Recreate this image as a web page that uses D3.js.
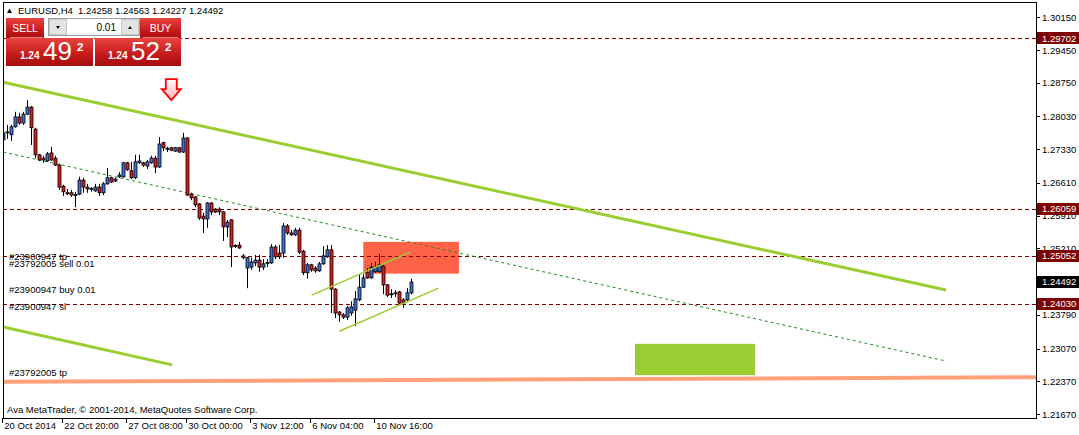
<!DOCTYPE html>
<html>
<head>
<meta charset="utf-8">
<script src="https://cdn.jsdelivr.net/npm/d3@7"></script>
<style>
body{margin:0;background:#fff}
svg{display:block;font-family:"Liberation Sans",Arial,sans-serif}
</style>
</head>
<body>
<div id="chart"></div>
<script>
// EURUSD H4 bars
const open = [1.2753,1.2768,1.2764,1.2781,1.2802,1.2789,1.2808,1.2823,1.2776,1.2721,
  1.2714,1.2708,1.2725,1.2714,1.2699,1.2654,1.2640,1.2640,1.2635,1.2637,
  1.2667,1.2652,1.2648,1.2644,1.2652,1.2640,1.2659,1.2672,1.2665,1.2674,
  1.2674,1.2704,1.2687,1.2672,1.2704,1.2704,1.2697,1.2704,1.2714,1.2695,
  1.2747,1.2734,1.2736,1.2729,1.2736,1.2727,1.2757,1.2637,1.2631,1.2616,
  1.2590,1.2584,1.2618,1.2605,1.2605,1.2599,1.2567,1.2582,1.2526,1.2528,
  1.2505,1.2479,1.2481,1.2490,1.2496,1.2481,1.2490,1.2490,1.2524,1.2511,
  1.2511,1.2569,1.2554,1.2550,1.2560,1.2515,1.2469,1.2486,1.2479,1.2473,
  1.2488,1.2503,1.2518,1.2434,1.2385,1.2379,1.2374,1.2383,1.2389,1.2411,
  1.2438,1.2469,1.2458,1.2471,1.2471,1.2483,1.2443,1.2423,1.2426,1.2428,
  1.2411,1.2411,1.24258];
const high = [1.2772,1.2785,1.2785,1.2813,1.2811,1.2813,1.2838,1.2825,1.2779,1.2723,
  1.2719,1.2727,1.2738,1.2719,1.2702,1.2657,1.2648,1.2646,1.2642,1.2674,
  1.2672,1.2659,1.2652,1.2659,1.2659,1.2663,1.2693,1.2674,1.2672,1.2684,
  1.2706,1.2706,1.2706,1.2721,1.2721,1.2706,1.2710,1.2719,1.2719,1.2759,
  1.2749,1.2738,1.2738,1.2738,1.2738,1.2768,1.2759,1.2640,1.2633,1.2618,
  1.2597,1.2620,1.2620,1.2607,1.2609,1.2601,1.2582,1.2584,1.2530,1.2535,
  1.2509,1.2503,1.2501,1.2507,1.2507,1.2498,1.2498,1.2530,1.2528,1.2528,
  1.2575,1.2573,1.2560,1.2565,1.2565,1.2518,1.2490,1.2488,1.2483,1.2492,
  1.2526,1.2528,1.2528,1.2436,1.2387,1.2383,1.2398,1.2408,1.2430,1.2464,
  1.2466,1.2479,1.2490,1.2492,1.2509,1.2486,1.2445,1.2434,1.2432,1.2430,
  1.2415,1.2436,1.24563];
const low = [1.2747,1.2755,1.2751,1.2779,1.2785,1.2785,1.2806,1.2742,1.2714,1.2708,
  1.2704,1.2706,1.2708,1.2697,1.2646,1.2633,1.2635,1.2631,1.2609,1.2635,
  1.2640,1.2640,1.2642,1.2642,1.2633,1.2635,1.2657,1.2661,1.2663,1.2672,
  1.2672,1.2687,1.2669,1.2669,1.2702,1.2695,1.2691,1.2702,1.2682,1.2693,
  1.2729,1.2727,1.2729,1.2727,1.2725,1.2725,1.2633,1.2624,1.2609,1.2582,
  1.2554,1.2565,1.2592,1.2597,1.2592,1.2537,1.2545,1.2481,1.2522,1.2520,
  1.2498,1.2436,1.2475,1.2483,1.2471,1.2475,1.2481,1.2488,1.2498,1.2498,
  1.2501,1.2550,1.2548,1.2548,1.2509,1.2464,1.2456,1.2471,1.2469,1.2471,
  1.2486,1.2501,1.2383,1.2372,1.2364,1.2370,1.2368,1.2377,1.2355,1.2408,
  1.2436,1.2456,1.2456,1.2469,1.2469,1.2423,1.2417,1.2415,1.2417,1.2402,
  1.2394,1.2406,1.24227];
const close = [1.2768,1.2770,1.2781,1.2802,1.2789,1.2808,1.2823,1.2779,1.2721,1.2710,
  1.2710,1.2723,1.2710,1.2699,1.2652,1.2642,1.2639,1.2635,1.2636,1.2667,
  1.2652,1.2648,1.2649,1.2652,1.2640,1.2659,1.2672,1.2663,1.2669,1.2678,
  1.2704,1.2689,1.2672,1.2706,1.2708,1.2699,1.2706,1.2714,1.2695,1.2744,
  1.2736,1.2735,1.2731,1.2736,1.2727,1.2757,1.2635,1.2629,1.2614,1.2586,
  1.2584,1.2618,1.2599,1.2599,1.2599,1.2567,1.2577,1.2524,1.2527,1.2522,
  1.2501,1.2501,1.2492,1.2496,1.2481,1.2488,1.2491,1.2524,1.2503,1.2503,
  1.2569,1.2554,1.2550,1.2560,1.2513,1.2469,1.2486,1.2475,1.2473,1.2488,
  1.2505,1.2518,1.2434,1.2383,1.2379,1.2374,1.2394,1.2396,1.2413,1.2438,
  1.2458,1.2458,1.2481,1.2481,1.2486,1.2443,1.2421,1.2424,1.2425,1.2404,
  1.2404,1.2426,1.24492];

const priceTicks = [1.30150,1.29450,1.28750,1.28030,1.27330,1.26610,1.25910,1.25210,1.24510,1.23790,1.23070,1.22370,1.21670];
const timeTickBars = [0,15,31,46,62,77,93];
const timeTickLabels = ["20 Oct 2014","22 Oct 20:00","27 Oct 08:00","30 Oct 00:00","3 Nov 12:00","6 Nov 04:00","10 Nov 16:00"];

const levels = [1.29702,1.26059,1.25052,1.24030]; // dashed order lines
const bidPrice = 1.24492;
const orderLabels = ["#23900947 tp","#23792005 sell 0.01","#23900947 buy 0.01","#23900947 sl","#23792005 tp"];
const orderLabelPrices = [1.2497,1.2482,1.2426,1.2389,1.2248];

// objects drawn on the chart: [bar, price]
const channelTop = [[0,1.2876],[235.7,1.2432]];
const channelBottom = [[0,1.2353],[42.2,1.2272]];
const dottedTrend = [[0,1.2727],[235.8,1.2280]];
const miniUpper = [[77.1,1.2421],[101.7,1.2513]];
const miniLower = [[84,1.2344],[108.8,1.2436]];
const tpTrend = [[0,1.2236],[258.2,1.22455]];
const sellZone = [[90,1.2535],[113.9,1.2467]];
const buyZone = [[157.9,1.2317],[187.9,1.2250]];
const arrowAt = [42,1.2838];

const width = 1079, height = 435;
const plot = {left: 3, right: 1036, top: 2, bottom: 418};

const x = d3.scaleLinear().domain([0,100]).range([3.3,403.3]);
const y = d3.scaleLinear().domain([1.2167,1.3015]).range([414,17.3]);

const svg = d3.select("#chart").append("svg")
  .attr("width", width)
  .attr("height", height);
svg.append("rect").attr("width", width).attr("height", height).attr("fill", "#fff");

const defs = svg.append("defs");
defs.append("clipPath").attr("id", "plotclip")
  .append("rect").attr("x", plot.left).attr("y", plot.top)
  .attr("width", plot.right - plot.left).attr("height", plot.bottom - plot.top);
const grad = defs.append("linearGradient").attr("id", "redgrad").attr("x1",0).attr("y1",0).attr("x2",0).attr("y2",1);
grad.append("stop").attr("offset","0%").attr("stop-color","#e8443e");
grad.append("stop").attr("offset","55%").attr("stop-color","#c81d1d");
grad.append("stop").attr("offset","100%").attr("stop-color","#a50b0b");
const agrad = defs.append("linearGradient").attr("id", "arrowgrad").attr("x1",0).attr("y1",0).attr("x2",0).attr("y2",1);
agrad.append("stop").attr("offset","0%").attr("stop-color","#ffffff");
agrad.append("stop").attr("offset","100%").attr("stop-color","#ffb0b8");

const g = svg.append("g").attr("clip-path", "url(#plotclip)");

// background rectangles
[[sellZone,"#ff6347"],[buyZone,"#9acd32"]].forEach(([z,c]) => {
  g.append("rect")
    .attr("x", x(z[0][0])).attr("y", y(z[0][1]))
    .attr("width", x(z[1][0]) - x(z[0][0]))
    .attr("height", y(z[1][1]) - y(z[0][1]))
    .attr("fill", c);
});

// dashed level lines
g.selectAll("line.level").data(levels).enter().append("line")
  .attr("x1", plot.left).attr("x2", plot.right)
  .attr("y1", d => Math.round(y(d)) + 0.5).attr("y2", d => Math.round(y(d)) + 0.5)
  .attr("stroke", "#800000").attr("stroke-dasharray", "4,3").attr("stroke-width", 1);

const line = d3.line().x(d => x(d[0])).y(d => y(d[1]));
g.append("path").attr("d", line(tpTrend)).attr("stroke","#ffa07a").attr("stroke-width",4).attr("fill","none");
g.append("path").attr("d", line(channelTop)).attr("stroke","#9acd32").attr("stroke-width",3).attr("fill","none");
g.append("path").attr("d", line(channelBottom)).attr("stroke","#9acd32").attr("stroke-width",3).attr("fill","none");
g.append("path").attr("d", line(dottedTrend)).attr("stroke","#228b22").attr("stroke-width",1).attr("stroke-dasharray","3,3").attr("fill","none");

// candles
const bars = open.map((o,i) => ({i, o, h: high[i], l: low[i], c: close[i]}));
const cg = g.append("g");
cg.selectAll("line.wick").data(bars).enter().append("line")
  .attr("x1", d => Math.round(x(d.i)) + 0.5).attr("x2", d => Math.round(x(d.i)) + 0.5)
  .attr("y1", d => y(d.h)).attr("y2", d => y(d.l))
  .attr("stroke", "#000").attr("stroke-width", 1);
cg.selectAll("rect.body").data(bars).enter().append("rect")
  .attr("x", d => Math.round(x(d.i)) - 1)
  .attr("width", 3)
  .attr("y", d => y(Math.max(d.o, d.c)))
  .attr("height", d => Math.max(1, Math.abs(y(d.o) - y(d.c))))
  .attr("fill", d => d.c > d.o ? "#3f6fd6" : (d.c < d.o ? "#d81e1e" : "#000"))
  .attr("stroke", "#000").attr("stroke-width", 0.8);

g.append("path").attr("d", line(miniUpper)).attr("stroke","#9acd32").attr("stroke-width",1.5).attr("fill","none");
g.append("path").attr("d", line(miniLower)).attr("stroke","#9acd32").attr("stroke-width",1.5).attr("fill","none");

// order labels
g.selectAll("text.order").data(orderLabels).enter().append("text")
  .attr("x", 9).attr("y", (d,i) => y(orderLabelPrices[i]))
  .attr("font-size", "9.5px").attr("fill", "#000").text(d => d);

// arrow mark
const ax = x(arrowAt[0]), ay = y(arrowAt[1]);
g.append("path")
  .attr("d", `M${ax-5.5},${ay-21} L${ax+5.5},${ay-21} L${ax+5.5},${ay-11} L${ax+9.5},${ay-11} L${ax},${ay} L${ax-9.5},${ay-11} L${ax-5.5},${ay-11} Z`)
  .attr("fill", "url(#arrowgrad)").attr("stroke", "#ff0000").attr("stroke-width", 1.8);

// copyright
svg.append("text").attr("x", 7).attr("y", 413).attr("font-size", "9.5px").attr("fill","#000")
  .text("Ava MetaTrader, \u00a9 2001-2014, MetaQuotes Software Corp.");

// frame
svg.append("rect").attr("x", plot.left + 0.5).attr("y", plot.top + 0.5)
  .attr("width", plot.right - plot.left).attr("height", plot.bottom - plot.top)
  .attr("fill", "none").attr("stroke", "#000").attr("stroke-width", 1);

// price axis
const pa = svg.append("g");
pa.selectAll("line").data(priceTicks).enter().append("line")
  .attr("x1", plot.right).attr("x2", plot.right + 4)
  .attr("y1", d => Math.round(y(d)) + 0.5).attr("y2", d => Math.round(y(d)) + 0.5)
  .attr("stroke", "#000");
pa.selectAll("text").data(priceTicks).enter().append("text")
  .attr("x", plot.right + 6).attr("y", d => y(d) + 3.5)
  .attr("font-size", "9.5px").attr("fill", "#000").text(d => d.toFixed(5));

// price boxes on axis
const boxes = levels.map(v => ({v, c: "#800000"})).concat([{v: bidPrice, c: "#000"}]);
const bg = svg.append("g");
bg.selectAll("rect").data(boxes).enter().append("rect")
  .attr("x", plot.right + 1).attr("width", width - plot.right - 1)
  .attr("y", d => Math.round(y(d.v)) - 6).attr("height", 12)
  .attr("fill", d => d.c);
bg.selectAll("text").data(boxes).enter().append("text")
  .attr("x", plot.right + 6).attr("y", d => y(d.v) + 3.5)
  .attr("font-size", "9.5px").attr("fill", "#fff").text(d => d.v.toFixed(5));

// time axis
const ta = svg.append("g");
ta.selectAll("line").data(timeTickBars).enter().append("line")
  .attr("x1", d => Math.round(x(d)) - 0.5).attr("x2", d => Math.round(x(d)) - 0.5)
  .attr("y1", plot.bottom).attr("y2", plot.bottom + 5).attr("stroke", "#000");
ta.selectAll("text").data(timeTickBars).enter().append("text")
  .attr("x", d => x(d) + 1).attr("y", 429)
  .attr("font-size", "9.5px").attr("fill", "#000").text((d,i) => timeTickLabels[i]);

// header
svg.append("path").attr("d", "M7,13 L9.5,8.5 L12,13 Z").attr("fill", "#000");
svg.append("text").attr("x", 18).attr("y", 13.5).attr("font-size","9.5px").text("EURUSD,H4");
svg.append("text").attr("x", 78).attr("y", 13.5).attr("font-size","9.5px")
  .text([open[open.length-1], high[high.length-1], low[low.length-1], close[close.length-1]].map(v => v.toFixed(5)).join(" "));

// one-click trading panel
const panel = svg.append("g");
panel.append("rect").attr("x",6).attr("y",18).attr("width",38).attr("height",21).attr("fill","url(#redgrad)");
panel.append("rect").attr("x",140).attr("y",18).attr("width",41).attr("height",21).attr("fill","url(#redgrad)");
panel.append("rect").attr("x",6).attr("y",38).attr("width",87).attr("height",28).attr("fill","url(#redgrad)");
panel.append("rect").attr("x",95).attr("y",38).attr("width",86).attr("height",28).attr("fill","url(#redgrad)");
panel.append("line").attr("x1",10).attr("x2",43).attr("y1",37.5).attr("y2",37.5).attr("stroke","#f08080");
panel.append("line").attr("x1",143).attr("x2",178).attr("y1",37.5).attr("y2",37.5).attr("stroke","#f08080");
panel.append("text").attr("x",25).attr("y",32).attr("text-anchor","middle").attr("font-size","10.5px").attr("fill","#fff").text("SELL");
panel.append("text").attr("x",160.5).attr("y",32).attr("text-anchor","middle").attr("font-size","10.5px").attr("fill","#fff").text("BUY");
panel.append("rect").attr("x",48.5).attr("y",18.5).attr("width",91).attr("height",17).attr("fill","#fff").attr("stroke","#a0a0a0");
panel.append("rect").attr("x",49.5).attr("y",19.5).attr("width",17).attr("height",15).attr("fill","#e3e3e3").attr("stroke","#c8c8c8");
panel.append("rect").attr("x",121.5).attr("y",19.5).attr("width",17).attr("height",15).attr("fill","#e3e3e3").attr("stroke","#c8c8c8");
panel.append("path").attr("d","M56,26 L60,26 L58,29 Z").attr("fill","#000");
panel.append("path").attr("d","M128,29 L132,29 L130,26 Z").attr("fill","#000");
panel.append("text").attr("x",116).attr("y",31).attr("text-anchor","end").attr("font-size","10px").text("0.01");

const quotes = [{x0: 20, big: "49"}, {x0: 108, big: "52"}];
quotes.forEach(q => {
  panel.append("text").attr("x", q.x0).attr("y", 59).attr("font-size","10px").attr("font-weight","bold").attr("fill","#fff").text("1.24");
  panel.append("text").attr("x", q.x0 + 23).attr("y", 59.5).attr("font-size","26px").attr("fill","#fff").text(q.big);
  panel.append("text").attr("x", q.x0 + 57).attr("y", 51).attr("font-size","11.5px").attr("font-weight","bold").attr("fill","#fff").text("2");
});
</script>
</body>
</html>
